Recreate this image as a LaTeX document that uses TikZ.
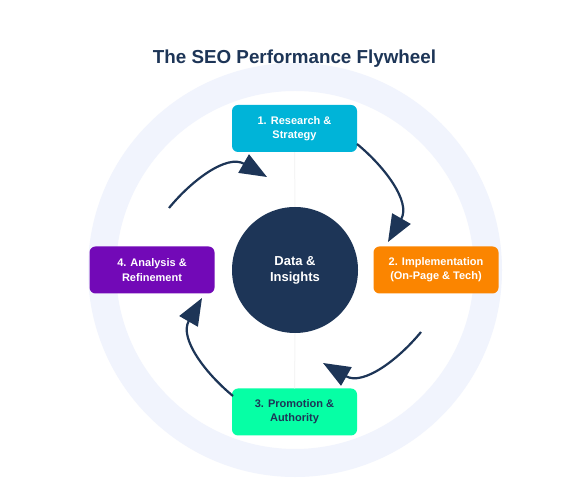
\documentclass[tikz,border=0pt]{standalone}
\usepackage{fontspec}
\setmainfont{Liberation Sans}
\usetikzlibrary{arrows.meta}
\definecolor{navy}{HTML}{1D3557}
\definecolor{ringc}{HTML}{F1F4FD}
\definecolor{cA}{HTML}{00B4D8}
\definecolor{cB}{HTML}{FB8500}
\definecolor{cC}{HTML}{06FFA5}
\definecolor{cD}{HTML}{7209B7}
\begin{document}
\begin{tikzpicture}[x=1pt,y=1pt,
  stepbox/.style={rounded corners=6pt, minimum width=125pt, minimum height=47pt,
    inner sep=0pt, align=center, font=\fontsize{11}{14.3}\selectfont\bfseries, text=white},
  flow/.style={draw=navy, line width=2.2pt, -{Triangle[length=27pt,width=21pt]}},
  faint/.style={draw=black!4, line width=1pt}]
\useasboundingbox (0,0) rectangle (564,481);
\fill[white] (0,0) rectangle (564,481);
% background ring
\draw[ringc, line width=28pt] (295,211) circle (193);
% title
\node[font=\fontsize{18.8}{22}\selectfont\bfseries, text=navy, anchor=base] (title) at (294.5,417) {The SEO Performance Flywheel};
% hub
\node[circle, fill=navy, minimum size=126pt, inner sep=0pt, text=white, align=center,
  font=\fontsize{13}{16}\selectfont\bfseries] (hub) at (295,211) {Data \&\\Insights};
% steps
\node[stepbox, fill=cA] (s1) at (294.5,352.5) {1. Research \&\\Strategy};
\node[stepbox, fill=cB] (s2) at (436,211) {2. Implementation\\(On-Page \& Tech)};
\node[stepbox, fill=cC, text=navy] (s3) at (294.5,69) {3. Promotion \&\\Authority};
\node[stepbox, fill=cD] (s4) at (152,211) {4. Analysis \&\\Refinement};
% faint links
\draw[faint] (s1.south) -- (hub.north);
\draw[faint] (hub.south) -- (s3.north);
% flywheel arrows
\foreach \k in {0,1,2,3} {
  \begin{scope}[shift={(295,211)}, rotate=-90*\k]
    \coordinate (as\k) at (62,126);
    \coordinate (ae\k) at (93,28);
    \draw[flow] (as\k) .. controls (90,103) and (116,68) .. (ae\k);
  \end{scope}
}
\end{tikzpicture}
\end{document}
